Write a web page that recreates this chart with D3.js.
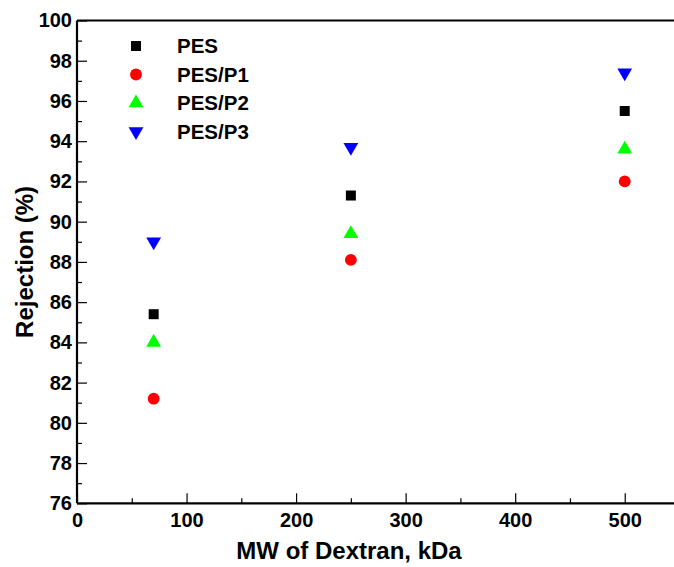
<!DOCTYPE html>
<html>
<head>
<meta charset="utf-8">
<script src="https://cdn.jsdelivr.net/npm/d3@7"></script>
<style>
  body { margin: 0; background: #fff; }
  svg { display: block; font-family: "Liberation Sans", Arial, sans-serif; font-weight: bold; }
</style>
</head>
<body>
<div id="chart"></div>
<script>
// dextran molecular weights (kDa)
const mw = [70, 250, 500];

// rejection (%) per membrane
const pes   = [85.4, 91.3, 95.5];
const pesP1 = [81.2, 88.1, 92.0];
const pesP2 = [84.0, 89.4, 93.6];
const pesP3 = [89.0, 93.7, 97.4];

const seriesNames = ["PES", "PES/P1", "PES/P2", "PES/P3"];
const xTicks = [0, 100, 200, 300, 400, 500];
const yTicks = [76, 78, 80, 82, 84, 86, 88, 90, 92, 94, 96, 98, 100];

const series = [
    {name: seriesNames[0], values: pes,   color: "#000000", shape: d3.symbolSquare,   size: 100, rot: 0},
    {name: seriesNames[1], values: pesP1, color: "#ff0000", shape: d3.symbolCircle,   size: 110, rot: 0},
    {name: seriesNames[2], values: pesP2, color: "#00ff00", shape: d3.symbolTriangle, size: 95,  rot: 0},
    {name: seriesNames[3], values: pesP3, color: "#0000ff", shape: d3.symbolTriangle, size: 95,  rot: 180}
];

const W = 674, H = 567;
const margin = {top: 20.5, left: 77};
const plotW = 602.5, plotH = 482.8;

const svg = d3.select("#chart").append("svg")
    .attr("width", W)
    .attr("height", H);

const x = d3.scaleLinear().domain([0, 550]).range([margin.left, margin.left + plotW]);
const y = d3.scaleLinear().domain([76, 100]).range([margin.top + plotH, margin.top]);

// minor ticks
svg.append("g")
    .attr("transform", `translate(0,${y(76)})`)
    .call(d3.axisBottom(x).tickValues(d3.range(50, 550, 100)).tickSizeInner(-5).tickSizeOuter(0).tickFormat(""))
    .call(g => g.select(".domain").remove())
    .call(g => g.selectAll("line").attr("stroke-width", 1.2));

svg.append("g")
    .attr("transform", `translate(${x(0)},0)`)
    .call(d3.axisLeft(y).tickValues(d3.range(77, 100, 2)).tickSizeInner(-5).tickSizeOuter(0).tickFormat(""))
    .call(g => g.select(".domain").remove())
    .call(g => g.selectAll("line").attr("stroke-width", 1.2));

// major ticks + labels
const xAxis = svg.append("g")
    .attr("transform", `translate(0,${y(76)})`)
    .call(d3.axisBottom(x).tickValues(xTicks).tickSizeInner(-10).tickSizeOuter(0).tickPadding(10));

const yAxis = svg.append("g")
    .attr("transform", `translate(${x(0)},0)`)
    .call(d3.axisLeft(y).tickValues(yTicks).tickSizeInner(-10).tickSizeOuter(0).tickPadding(5));

[xAxis, yAxis].forEach(g => {
    g.select(".domain").remove();
    g.selectAll("line").attr("stroke", "#000").attr("stroke-width", 1.2);
    g.selectAll("text")
        .attr("fill", "#000")
        .style("font-size", "20px")
        .style("font-weight", "bold")
        .style("font-family", "'Liberation Sans', Arial, sans-serif");
});

// frame lines (left, bottom, top; right edge is off the page)
const frame = svg.append("g").attr("stroke", "#000").attr("stroke-width", 2.2);
frame.append("line").attr("x1", x(0)).attr("x2", x(0)).attr("y1", y(100)).attr("y2", y(76));
frame.append("line").attr("x1", x(0)).attr("x2", x(550)).attr("y1", y(76)).attr("y2", y(76));
frame.append("line").attr("x1", x(0)).attr("x2", x(550)).attr("y1", y(100)).attr("y2", y(100));
frame.append("line").attr("x1", x(550)).attr("x2", x(550)).attr("y1", y(100)).attr("y2", y(76));

// points
series.forEach(s => {
    svg.append("g")
        .selectAll("path")
        .data(s.values)
        .join("path")
        .attr("d", d3.symbol().type(s.shape).size(s.size))
        .attr("transform", (d, i) => `translate(${x(mw[i])},${y(d)}) rotate(${s.rot})`)
        .attr("fill", s.color);
});

// legend
const legend = svg.append("g").attr("transform", "translate(136,46)");
series.forEach((s, i) => {
    const row = legend.append("g").attr("transform", `translate(0,${i * 28.5})`);
    row.append("path")
        .attr("d", d3.symbol().type(s.shape).size(s.size))
        .attr("transform", `rotate(${s.rot})`)
        .attr("fill", s.color);
    row.append("text")
        .attr("x", 41)
        .attr("dy", "0.36em")
        .style("font-size", "20.5px")
        .text(s.name);
});

// axis titles
svg.append("text")
    .attr("x", 349)
    .attr("y", 559)
    .attr("text-anchor", "middle")
    .style("font-size", "24px")
    .text("MW of Dextran, kDa");

svg.append("text")
    .attr("transform", `translate(33,${(y(100) + y(76)) / 2}) rotate(-90)`)
    .attr("text-anchor", "middle")
    .style("font-size", "24px")
    .text("Rejection (%)");
</script>
</body>
</html>
